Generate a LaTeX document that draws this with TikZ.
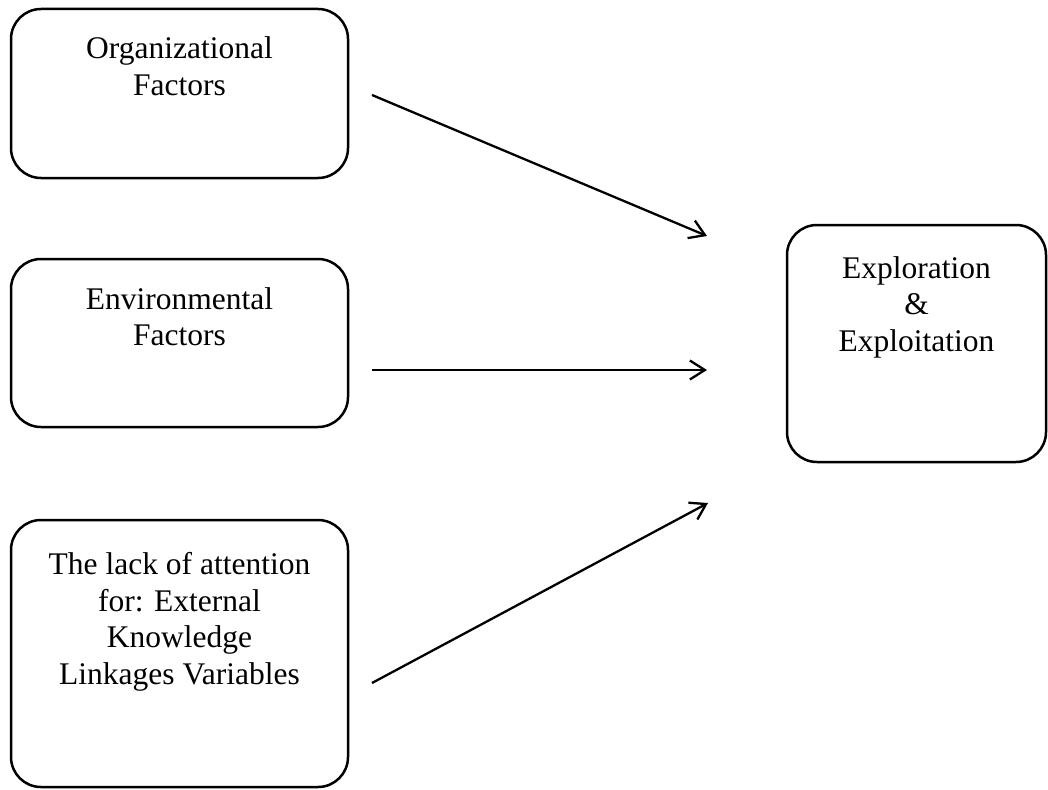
\documentclass[tikz,border=0pt]{standalone}
\usepackage{fontspec}
\setmainfont{Liberation Serif}
\usetikzlibrary{arrows.meta}
\tikzset{
  box/.style={draw=black, line width=2.5pt, rounded corners=30pt, inner sep=0pt},
  lbl/.style={align=center, anchor=base, inner sep=0pt, font=\fontsize{31.5}{36.5}\selectfont},
  conn/.style={line width=2.3pt, -{Straight Barb[length=15pt,width=19pt]}}
}
\begin{document}
\begin{tikzpicture}[x=1pt,y=-1pt]
\useasboundingbox (0,0) rectangle (1048,789);
\node[box, minimum width=337, minimum height=169] (org) at (179.5,93.5) {};
\node[box, minimum width=337, minimum height=168] (env) at (179.5,343) {};
\node[box, minimum width=337, minimum height=267] (lack) at (179.5,653.5) {};
\node[box, minimum width=259, minimum height=237] (expl) at (916.5,343.5) {};
\node[lbl] (orgt) at (179.5,95.5) {Organizational\\Factors};
\node[lbl] (envt) at (179.5,345.5) {Environmental\\Factors};
\node[lbl] (lackt) at (179.5,684) {The lack of attention\\for: External\\Knowledge\\Linkages Variables};
\node[lbl] (explt) at (916.5,351) {Exploration\\\&\\Exploitation};
\coordinate (s1) at (372,95);
\coordinate (e1) at (707,236);
\coordinate (s2) at (372,370);
\coordinate (e2) at (707,370);
\coordinate (s3) at (372,683);
\coordinate (e3) at (708,503);
\draw[conn] (s1) -- (e1);
\draw[conn] (s2) -- (e2);
\draw[conn] (s3) -- (e3);
\end{tikzpicture}
\end{document}
